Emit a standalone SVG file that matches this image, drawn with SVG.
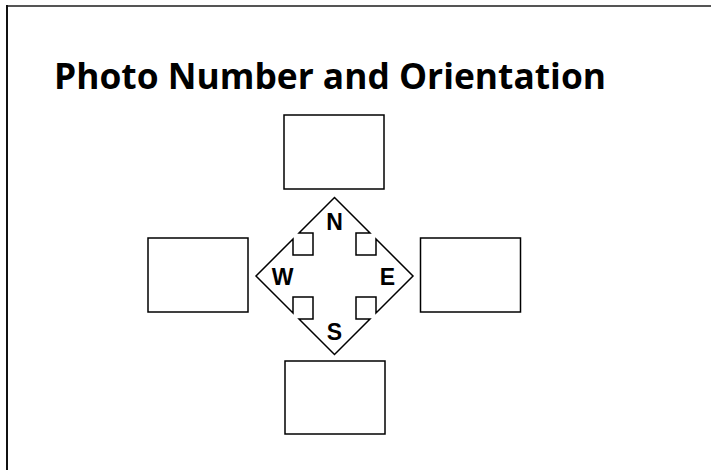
<svg xmlns="http://www.w3.org/2000/svg" width="711" height="470" viewBox="0 0 711 470">
<style>
.box{fill:#fff;stroke:#000;stroke-width:1.5}
.dir{font-family:"Liberation Sans",Arial,sans-serif;font-weight:bold;font-size:23px;fill:#000;text-anchor:middle}
.title{font-family:"Open Sans","Noto Sans",sans-serif;font-weight:bold;font-size:36px;fill:#000}
</style>
<rect x="0" y="0" width="711" height="470" fill="#fff"/>
<g id="frame">
<line x1="6" y1="6" x2="711" y2="6" stroke="#555" stroke-width="2"/>
<line x1="7" y1="5" x2="7" y2="470" stroke="#111" stroke-width="2"/>
</g>
<g id="title"><text class="title" x="54" y="88.5" textLength="552" lengthAdjust="spacingAndGlyphs">Photo Number and Orientation</text></g>
<g id="box-north"><rect class="box" x="284" y="115" width="100" height="74"/></g>
<g id="box-west"><rect class="box" x="148" y="238" width="100" height="74"/></g>
<g id="box-east"><rect class="box" x="420.5" y="238" width="100" height="74"/></g>
<g id="box-south"><rect class="box" x="285" y="361" width="100" height="73"/></g>
<g id="compass">
<path class="box" d="M334.5,197.5 L370,233 L356,233 L356,255 L376,255 L376,239 L413,276 L376,313 L376,297 L356,297 L356,319 L370,319 L334.5,354.5 L299,319 L313,319 L313,297 L293,297 L293,313 L256,276 L293,239 L293,255 L313,255 L313,233 L299,233 Z"/>
<text class="dir" x="334.5" y="229.5">N</text>
<text class="dir" x="282.7" y="285">W</text>
<text class="dir" x="387.5" y="285">E</text>
<text class="dir" x="334.5" y="340">S</text>
</g>
<g id="connectors"/>
</svg>
